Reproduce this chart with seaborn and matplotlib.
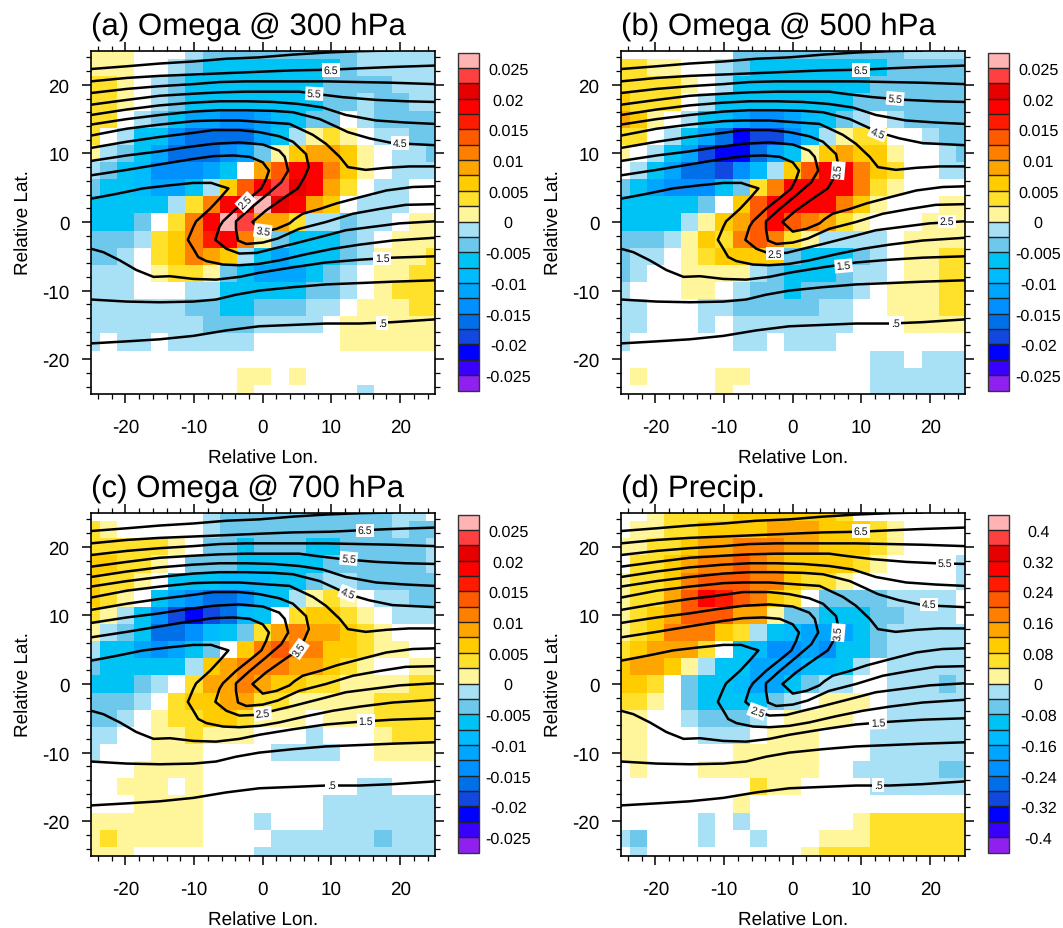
import numpy as np
import pandas as pd
import matplotlib
matplotlib.use('Agg')
import matplotlib.pyplot as plt
from matplotlib.colors import ListedColormap, BoundaryNorm
import seaborn as sns

# ----------------------------------------------------------------------
# Data: colour-box number per grid cell (0 = blank, +-n = n-th box from zero)
# rows run from lat 25 (top) to lat -25, columns from lon -25 to lon 25
# ----------------------------------------------------------------------
omega300 = [
    [1,1,1,0,0,0,-1,-2,-2,-2,-2,-2,-2,-2,-2,-2,-1,-1,-1,-1,-1],
    [1,1,1,0,0,-1,-2,-3,-3,-3,-3,-3,-3,-3,-3,-2,-1,-1,-1,-1,-1],
    [2,2,1,0,-1,-2,-3,-3,-3,-3,-3,-3,-3,-3,-2,-2,-2,-2,-1,-1,-1],
    [2,2,1,0,-1,-2,-3,-3,-3,-3,-3,-3,-3,-3,-2,-2,-1,-2,-2,-1,-1],
    [2,2,0,-1,-2,-3,-5,-5,-6,-6,-5,-4,-3,-2,-2,0,-1,-2,-2,-2,-2],
    [2,0,-1,-3,-3,-6,-7,-7,-7,-7,-5,-3,-1,1,2,1,0,-1,-1,-2,-2],
    [1,-1,-2,-3,-5,-7,-7,-7,-6,-5,-2,1,3,4,4,3,1,0,-1,-1,-2],
    [-1,-2,-3,-4,-6,-6,-6,-5,-3,0,4,6,8,8,5,3,1,0,-1,-1,-1],
    [-2,-3,-3,-4,-5,-5,-3,-1,3,6,8,10,9,8,4,2,0,-1,-1,0,0],
    [-3,-3,-3,-3,-3,-1,2,5,8,9,11,9,8,4,3,0,-1,-1,-1,0,0],
    [-3,-3,-3,-2,0,2,5,8,11,10,4,4,2,-1,-1,-2,-1,-1,0,1,1],
    [-2,-2,-2,-1,2,3,5,7,8,5,1,-2,-3,-3,-3,-2,-1,0,1,1,1],
    [-2,-2,-1,0,2,3,5,4,3,-1,-3,-5,-4,-3,-3,-2,-1,1,1,1,2],
    [-1,-1,-1,0,1,2,2,1,-2,-3,-5,-5,-5,-3,-2,-1,0,1,1,2,2],
    [-1,-1,-1,0,0,0,-1,-1,-3,-3,-3,-3,-3,-2,-2,-1,0,1,2,2,2],
    [-1,-1,-1,-1,-1,-1,-2,-2,-3,-3,-2,-2,-2,-1,-1,0,1,1,1,2,2],
    [-1,-1,-1,-1,-1,-1,-1,-2,-2,-2,-1,-1,-1,-1,0,1,1,1,1,1,1],
    [-1,0,-1,-1,0,-1,-1,-1,-1,-1,0,0,0,0,0,1,1,1,1,1,1],
    [0,0,0,0,0,0,0,0,0,0,0,0,0,0,0,0,0,0,0,0,0],
    [0,0,0,0,0,0,0,0,0,1,1,0,1,0,0,0,0,0,0,0,0],
    [0,0,0,0,0,0,0,0,0,1,0,0,0,0,0,0,-1,0,0,0,0],
]
omega500 = [
    [0,0,0,0,0,0,0,-2,-2,-2,-2,-2,-2,-2,-2,-2,-2,-1,-1,-1,-1],
    [2,2,1,1,0,0,-1,-2,-3,-3,-3,-3,-3,-3,-3,-3,-2,-2,-2,-2,-2],
    [2,2,2,2,1,0,-1,-3,-3,-3,-3,-3,-3,-3,-3,-2,-2,-2,-2,-2,-2],
    [3,2,2,2,0,-1,-3,-3,-3,-3,-3,-3,-3,-3,-2,-2,-2,-2,-2,-2,-2],
    [4,3,1,0,-1,-3,-4,-5,-6,-6,-5,-4,-3,-2,-1,0,-1,-2,-2,-2,-2],
    [2,2,0,-1,-3,-5,-7,-9,-8,-8,-6,-4,-1,1,2,2,0,0,-1,-2,-2],
    [1,0,-1,-3,-5,-8,-9,-9,-7,-5,-3,1,3,4,3,3,1,0,0,-1,-2],
    [0,-1,-3,-5,-7,-7,-8,-6,-4,-1,3,6,8,8,5,3,2,0,0,-1,-1],
    [-2,-3,-5,-6,-6,-6,-3,-2,2,5,8,8,8,8,5,2,1,0,0,0,0],
    [-3,-3,-3,-3,-3,-2,0,3,6,8,8,8,8,5,3,1,0,0,0,1,1],
    [-3,-3,-3,-3,-1,1,3,4,6,8,6,5,4,2,1,0,0,0,1,1,1],
    [-2,-2,-2,-1,1,3,2,5,6,5,2,1,-1,-1,-1,-1,0,1,1,1,1],
    [-2,-1,-1,0,1,2,3,3,3,3,-2,-3,-3,-3,-2,-1,0,1,1,2,2],
    [-2,-1,0,0,1,1,1,1,-1,-2,-3,-3,-3,-2,-1,-1,0,1,1,2,2],
    [-1,0,0,0,1,1,0,-1,-2,-2,-3,-2,-2,-2,-1,0,1,1,1,2,2],
    [-1,-1,0,0,0,-1,-1,-2,-2,-2,-2,-2,-1,-1,0,0,1,1,1,2,2],
    [-1,-1,0,0,0,-1,0,-1,-1,-1,-1,-1,-1,-1,0,0,0,1,1,1,1],
    [-1,0,0,0,0,0,0,-1,-1,0,-1,-1,-1,0,0,0,0,0,0,0,0],
    [0,0,0,0,0,0,0,0,0,0,0,0,0,0,0,-1,-1,0,-1,-1,-1],
    [0,1,0,0,0,0,1,1,0,0,0,0,0,0,0,-1,-1,-1,-1,-1,-1],
    [0,0,0,0,0,0,1,0,0,0,0,0,0,0,0,-1,-1,-1,-1,-1,-1],
]
omega700 = [
    [0,0,0,0,0,0,0,-1,-2,-2,-2,-2,-2,-2,-2,-2,-2,-2,-1,-1,0],
    [2,1,0,0,0,0,0,-1,-2,-2,-2,-2,-2,-2,-2,-2,-2,-2,-1,-2,-2],
    [2,2,2,2,2,1,0,-2,-2,-3,-2,-2,-2,-3,-3,-2,-2,-2,-2,-2,-1],
    [3,3,2,2,1,0,-2,-2,-2,-3,-3,-3,-3,-3,-2,-2,-2,-2,-2,-2,-1],
    [3,2,2,1,0,-3,-3,-3,-4,-4,-4,-3,-3,-2,-1,-1,-2,-2,-2,-2,-2],
    [3,2,1,0,-3,-5,-6,-7,-7,-6,-4,-3,-1,1,2,1,0,-1,-1,-2,-2],
    [2,1,-1,-3,-6,-8,-9,-8,-7,-4,-3,0,2,3,3,2,1,0,-1,-1,-1],
    [1,-1,-2,-3,-7,-7,-6,-4,-3,-2,2,4,5,4,4,3,2,1,0,0,0],
    [-1,-3,-3,-5,-6,-5,-3,-2,0,3,5,6,5,5,3,3,2,1,1,0,0],
    [-2,-3,-3,-3,-3,-3,-1,3,4,5,5,5,4,4,3,2,1,0,0,1,1],
    [-3,-3,-3,-2,-1,0,2,4,4,5,4,3,3,2,2,1,1,1,1,2,2],
    [-2,-2,-2,-1,0,2,3,3,4,4,2,2,1,1,1,1,1,2,2,2,2],
    [-2,-2,-1,0,1,2,2,3,3,2,1,1,1,0,1,1,1,2,2,2,2],
    [-1,-1,0,0,1,1,2,1,1,1,0,0,0,-1,0,0,0,1,2,2,2],
    [-1,0,0,0,1,1,1,0,0,0,0,-1,-1,-1,-1,0,0,1,1,1,1],
    [0,0,0,1,1,1,1,0,0,0,0,0,0,0,0,0,0,0,0,0,0],
    [0,0,1,1,1,0,1,0,0,0,0,0,0,0,0,0,-1,-1,0,0,0],
    [0,0,0,1,1,1,1,0,0,0,0,0,0,0,-1,-1,-1,-1,-1,-1,-1],
    [1,1,1,1,1,1,1,0,0,0,-1,0,0,0,-1,-1,-1,-1,-1,-1,-1],
    [1,2,1,1,1,1,1,0,0,0,0,-1,-1,-1,-1,-1,-1,-2,-1,-1,-1],
    [1,1,1,0,0,0,0,0,0,0,-1,-1,-1,-1,-1,-1,-1,-1,-1,-1,-1],
]
precip = [
    [0,0,1,2,2,2,2,3,3,3,3,3,3,2,0,0,0,0,0,0,0],
    [0,1,1,2,2,3,3,3,3,4,4,4,3,3,3,2,1,0,0,0,0],
    [1,1,2,2,3,4,4,5,5,5,4,4,3,3,3,2,1,0,0,0,0],
    [0,2,2,3,4,5,5,6,5,4,3,3,3,3,2,1,0,0,0,0,-1],
    [1,2,2,3,5,6,6,6,5,5,3,2,2,1,0,0,0,0,0,0,-1],
    [1,2,2,4,6,8,7,6,5,3,2,0,-2,-2,-2,-2,-1,-1,-1,-1,0],
    [1,2,3,4,6,6,6,4,4,1,-2,-2,-3,-3,-3,-2,-2,-1,-1,-1,0],
    [1,2,3,5,5,5,3,2,-1,-3,-4,-5,-5,-5,-3,-2,-1,-1,-1,-1,-1],
    [2,3,4,4,4,2,0,-3,-4,-6,-6,-5,-6,-3,-3,-2,-1,-1,-1,-1,-1],
    [3,4,4,3,1,-1,-3,-3,-5,-5,-5,-4,-4,-3,-1,0,-1,-1,-1,-1,-1],
    [3,3,2,0,-2,-3,-3,-4,-5,-5,-3,-2,-1,-1,0,0,-1,-1,-1,-2,-1],
    [2,2,1,0,-2,-3,-3,-3,-3,-2,-1,0,1,1,1,0,-1,-1,-1,-1,-1],
    [1,1,0,0,-1,-2,-2,-2,-1,0,1,1,1,1,0,0,-1,-1,-1,-1,-1],
    [1,1,0,0,0,-1,-1,-1,0,1,1,1,0,0,0,-1,-1,-1,-1,-1,-1],
    [1,1,0,0,0,0,0,1,1,1,1,1,0,0,0,-1,-1,-1,-1,-1,-1],
    [0,1,0,0,0,1,1,1,1,1,1,1,0,0,-1,-1,-1,-1,-1,-2,-2],
    [0,0,0,0,0,0,0,0,2,1,1,0,0,0,0,-1,-1,-1,-1,-1,-1],
    [0,0,0,0,0,0,0,1,0,0,0,0,0,0,0,0,0,0,0,0,0],
    [0,0,0,0,0,-1,0,-1,0,0,0,0,0,0,1,2,2,2,2,2,2],
    [-1,-2,0,0,0,-1,0,0,-1,0,0,0,1,1,1,2,2,2,2,2,2],
    [0,-1,0,0,0,0,0,0,0,0,0,1,2,2,2,2,2,2,2,2,2],
]

# box colours, most negative to most positive
box_colors = ['#9020f0', '#3a00ff', '#0000ff', '#1048e0', '#0070e8', '#0090ff',
              '#00a5ff', '#00bcff', '#00c3f5', '#6ec8ec', '#a8e0f5',
              '#fff59a', '#ffe02a', '#ffcc00', '#ffa500', '#ff8000', '#ff5a00',
              '#ff1a00', '#ff0000', '#e60000', '#ff4040', '#ffb3b3']

# ----------------------------------------------------------------------
# Contours (same field in every panel)
# ----------------------------------------------------------------------
c05_lon = [-25,-19.8,-15,-10.1,-5.3,-0.5,4.4,9.2,14.1,18.9,25]
c05_lat = [-17.7,-17.4,-17.1,-16.6,-15.8,-15.2,-15,-14.8,-14.8,-14.6,-14.2]
c10_lon = [-25,-19.8,-15,-10.1,-6.8,-3.9,-0.5,4.4,9.2,14.1,18.9,25]
c10_lat = [-11.3,-11.6,-11.7,-11.6,-11.3,-10.6,-10,-9.5,-9.1,-8.9,-8.7,-8.5]
c15_lon = [-25,-23.2,-20.8,-18.4,-15.9,-13.5,-10.1,-6.8,-3.4,-0.5,4.4,9.2,14.1,18.9,25]
c15_lat = [-3.9,-4.4,-5.6,-7,-8,-7.9,-8.3,-8.4,-8,-7.4,-6.6,-5.9,-5.5,-5.2,-5]
c20_lon = [25,18.9,14.1,10.2,6.3,2.4,-0.5,-3.4,-5.8,-8.2,-9.4,-10.1,-10.9,-10.1,-9.7,-7.7,-6.3,-5,-6.3,-7.5,-10.1,-14,-17.4,-21.3,-25]
c20_lat = [-2.3,-2.7,-3.3,-3.9,-4.7,-5.6,-6.1,-6.3,-6.2,-5.7,-5.1,-3.9,-2.6,-0.7,0.1,1.9,3.4,4.9,5.3,5.7,5.7,5.3,4.9,4.1,3.4]
c25_lon = [25,19.9,16,12.1,8.3,4.4,1.5,-0.9,-3.4,-5.3,-6.9,-6.3,-5.8,-3.9,-1.4,-0.2,0.5,0.9,0,-1.9,-4.3,-7.2,-10.1,-15,-19.8,-25]
c25_lat = [0.1,-0.2,-0.7,-1.2,-2.2,-3.2,-3.9,-4.5,-4.6,-3.9,-2.6,-0.7,0.1,1.9,3.9,4.9,6.3,7.5,8.7,9.5,9.7,9.6,9.2,8.4,7.6,6.8]
c30_lon = [25,20.8,17,13.1,9.2,5.3,2.2,0,-2.4,-3.6,-3.9,-3.9,-1.9,0.5,2.7,3.7,3.2,2.4,0,-3.4,-7.2,-11.1,-15,-19.8,-25]
c30_lat = [2.6,2.5,1.9,1.2,0,-1,-2.4,-3,-3.2,-2.7,-1,0.1,1.9,3.9,5.8,7.5,9.5,10.4,11.3,11.6,11.4,10.9,10.3,9.7,8.9]
c35_lon = [25,21.8,18,14.1,10.7,8.3,5.8,4.6,3.9,2,0,-1.5,0.5,2.9,5.1,6.1,6.7,6.3,4.4,2.4,-0.5,-3.4,-7.2,-10.1,-15,-19.8,-25]
c35_lat = [5.2,5.1,4.6,3.6,2.7,1.9,1.2,0.4,-0.2,-1,-1.4,0,1.7,3.4,4.9,6.6,8,9.9,11.7,12.5,13.1,13.4,13.4,13,12.4,11.7,10.8]
c40_lon = [25,21.3,18,15,12.4,11.2,9.2,7.3,3.9,-0.5,-3.4,-7.2,-10.1,-15,-19.8,-25]
c40_lat = [8.1,8.1,7.9,7.6,8,9.5,11.4,12.7,14.3,14.6,14.8,14.8,14.7,14.2,13.6,12.6]
c45_lon = [25,18.9,15.5,12.4,10.7,8.3,4.4,1.5,-2.4,-6.3,-10.1,-15,-19.8,-25]
c45_lat = [11.2,11.5,12.2,13.1,13.9,15,16,16.2,16.3,16.3,16.1,15.6,15,14.2]
c50_lon = [25,20.8,16.5,12.1,8.7,5.3,1.5,-2.4,-6.3,-10.1,-15,-19.8,-25]
c50_lat = [14.3,14.5,14.8,15.6,16.7,17.2,17.5,17.6,17.6,17.4,17,16.4,15.6]
c55_lon = [25,20.8,16.5,11.6,7.5,5.3,1.5,-2.4,-6.3,-10.1,-15,-19.8,-25]
c55_lat = [17.5,17.6,17.8,18.2,18.7,19,19,19,18.9,18.7,18.4,17.8,17.1]
c60_lon = [25,18.9,14.1,9.2,5.3,1.5,-2.4,-6.3,-10.1,-15,-19.8,-25]
c60_lat = [20.1,20.3,20.4,20.5,20.5,20.5,20.5,20.4,20.1,19.8,19.4,18.8]
c65_lon = [25,18.9,14.1,9.9,4.4,-0.5,-5.3,-10.1,-15,-19.8,-25]
c65_lat = [22.8,22.6,22.4,22.2,22.1,21.9,21.7,21.5,21.3,21,20.5]
c70_lon = [18.9,14.1,9.2,4.4,-0.5,-5.3,-10.1,-15,-19.8,-25]
c70_lat = [25,24.9,24.7,24.4,24,23.8,23.4,23.1,22.7,22.3]

contours = [(c05_lon, c05_lat), (c10_lon, c10_lat), (c15_lon, c15_lat), (c20_lon, c20_lat),
            (c25_lon, c25_lat), (c30_lon, c30_lat), (c35_lon, c35_lat), (c40_lon, c40_lat),
            (c45_lon, c45_lat), (c50_lon, c50_lat), (c55_lon, c55_lat), (c60_lon, c60_lat),
            (c65_lon, c65_lat), (c70_lon, c70_lat)]

# contour labels per panel: text, lon, lat, rotation
labels_a = [('6.5', 9.9, 22.2, 0), ('5.5', 7.5, 18.7, -3), ('4.5', 20, 11.5, 0),
            ('3.5', 0, -1.3, -8), ('2.5', -2.5, 2.9, 45), ('1.5', 17.4, -5.3, 0), ('.5', 17.4, -14.7, 0)]
labels_b = [('6.5', 9.9, 22.2, 0), ('5.5', 14.9, 18, -5), ('4.5', 12.4, 13, -22),
            ('3.5', 6.6, 7.5, 85), ('2.5', -2.6, -4.6, 0), ('2.5', 22.4, 0.1, 0),
            ('1.5', 7.4, -6.4, 5), ('.5', 14.9, -14.7, 0)]
labels_c = [('6.5', 14.9, 22.4, 0), ('5.5', 12.5, 18.3, -5), ('4.5', 12.4, 13.2, -22),
            ('3.5', 5.3, 5.1, 55), ('2.5', 0, -4.3, 5), ('1.5', 15, -5.4, 0), ('.5', 10, -14.8, 0)]
labels_d = [('6.5', 9.9, 22.3, 0), ('5.5', 22.1, 17.6, 0), ('4.5', 19.9, 11.6, 0),
            ('3.5', 6.6, 7.5, 85), ('2.5', -5.2, -4, -20), ('1.5', 12.4, -5.6, 3), ('.5', 12.4, -14.7, 0)]

omega_ticks = ['-0.025', '-0.02', '-0.015', '-0.01', '-0.005', '0', '0.005', '0.01', '0.015', '0.02', '0.025']
precip_ticks = ['-0.4', '-0.32', '-0.24', '-0.16', '-0.08', '0', '0.08', '0.16', '0.24', '0.32', '0.4']

# ----------------------------------------------------------------------
# Style
# ----------------------------------------------------------------------
sns.set_theme(style='ticks')
plt.rcParams['font.family'] = ['Liberation Sans', 'DejaVu Sans']
plt.rcParams['axes.linewidth'] = 1.2
plt.rcParams['axes.unicode_minus'] = False
plt.rcParams['text.color'] = 'black'
plt.rcParams['axes.labelcolor'] = 'black'
plt.rcParams['text.hinting'] = 'none'

W, H = 1063, 929
cmap = ListedColormap(box_colors)


def px_rect(x0, y0, x1, y1):
    return [x0 / W, 1 - y1 / H, (x1 - x0) / W, (y1 - y0) / H]


def draw_panel(fig, boxes, step, tick_text, labels, title, x0, y0):
    ax = fig.add_axes(px_rect(x0, y0, x0 + 343.5, y0 + 343))
    cax = fig.add_axes(px_rect(x0 + 367, y0 + 2, x0 + 388, y0 + 340))

    boxes = np.array(boxes, dtype=float)
    values = np.sign(boxes) * (np.abs(boxes) - 0.5) * step
    values[boxes == 0] = np.nan
    df = pd.DataFrame(values)

    bounds = np.arange(-11, 12) * step
    norm = BoundaryNorm(bounds, cmap.N)
    ticks = np.arange(-10, 11, 2) * step
    sns.heatmap(df, ax=ax, cbar_ax=cax, cmap=cmap, norm=norm,
                xticklabels=False, yticklabels=False,
                cbar_kws={'ticks': ticks, 'drawedges': True, 'spacing': 'uniform'})
    # cell centres sit on the 2.5 degree grid, so outer cells are cut in half
    ax.set_xlim(0.5, 20.5)
    ax.set_ylim(20.5, 0.5)

    cb = ax.collections[0].colorbar
    cb.outline.set_linewidth(1.0)
    cb.outline.set_edgecolor('#333333')
    cb.dividers.set_linewidth(1.0)
    cb.dividers.set_color('#222222')
    cb.set_ticklabels(tick_text)
    cb.minorticks_off()
    cax.tick_params(which='both', length=0, pad=21, labelsize=11.6, labelcolor='black')
    for t in cax.get_yticklabels():
        t.set_ha('center')

    # lon/lat axes on top of the heatmap
    ov = fig.add_axes(ax.get_position(), facecolor='none')
    for lon, lat in contours:
        sns.lineplot(x=lon, y=lat, sort=False, estimator=None, color='black',
                     linewidth=1.8, ax=ov)
    for text, lon, lat, rot in labels:
        ov.text(lon, lat, text, fontsize=7.6, rotation=rot, ha='center', va='center',
                rotation_mode='anchor', zorder=5, color='#111111',
                bbox=dict(facecolor='white', edgecolor='none', pad=1.2))

    ov.set_xlim(-25, 25)
    ov.set_ylim(-25, 25)
    ov.set_xticks(np.arange(-20, 21, 10))
    ov.set_yticks(np.arange(-20, 21, 10))
    ov.set_xticks(np.arange(-24, 25, 2), minor=True)
    ov.set_yticks(np.arange(-24, 25, 2), minor=True)
    ov.tick_params(which='major', direction='out', length=6.5, width=1.1, top=True, right=True,
                   labelsize=13.6, color='black', labelcolor='black')
    ov.tick_params(which='minor', direction='out', length=3.6, width=0.9, top=True, right=True,
                   color='black')
    ov.tick_params(axis='x', which='major', pad=11.5)
    ov.tick_params(axis='y', which='major', pad=9)
    for s in ov.spines.values():
        s.set_visible(True)
        s.set_color('black')
        s.set_linewidth(1.2)

    ov.set_xlabel('Relative Lon.', fontsize=13.6, va='center')
    ov.set_ylabel('Relative Lat.', fontsize=13.6, va='center')
    ov.xaxis.set_label_coords(0.5, -63 / 343)
    ov.yaxis.set_label_coords(-68 / 343, 0.5)
    ov.text(0, 1.05, title, transform=ov.transAxes, fontsize=22.5, ha='left', va='baseline',
            color='black')


fig = plt.figure(figsize=(W / 100, H / 100), dpi=100, facecolor='white')
draw_panel(fig, omega300, 0.0025, omega_ticks, labels_a, '(a) Omega @ 300 hPa', 91, 51.5)
draw_panel(fig, omega500, 0.0025, omega_ticks, labels_b, '(b) Omega @ 500 hPa', 621, 51.5)
draw_panel(fig, omega700, 0.0025, omega_ticks, labels_c, '(c) Omega @ 700 hPa', 91, 513.5)
draw_panel(fig, precip, 0.04, precip_ticks, labels_d, '(d) Precip.', 621, 513.5)
fig.savefig('out.png', dpi=100, facecolor='white')
